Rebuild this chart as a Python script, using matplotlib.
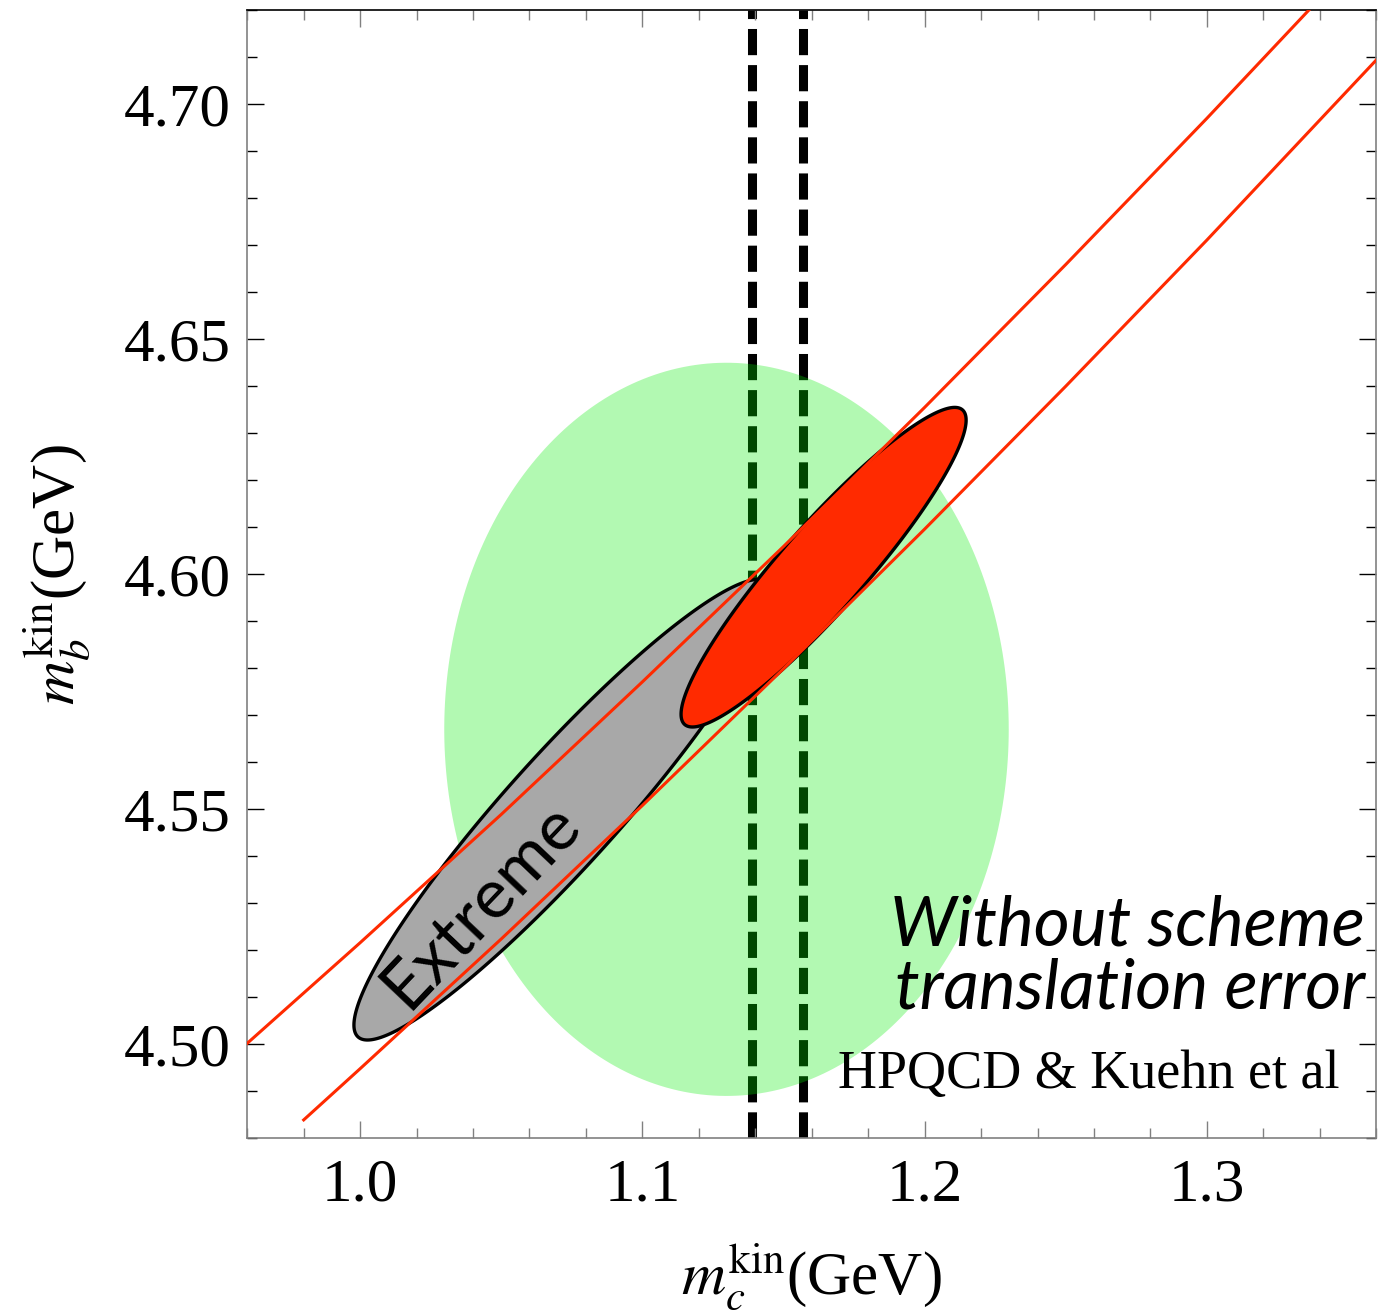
import numpy as np
import matplotlib.pyplot as plt
from matplotlib.ticker import MultipleLocator, FormatStrFormatter

plt.rcParams['mathtext.fontset'] = 'stix'
plt.rcParams['font.family'] = ['Liberation Serif', 'DejaVu Serif']

# fit regions: centre, sigmas and correlation in (m_c, m_b)
green_center = (1.1298, 4.567)
green_sigma = (0.100, 0.078)
green_rho = 0.0

gray_center = (1.0718, 4.5499)
gray_sigma = (0.0740, 0.049)
gray_rho = 0.935

red_center = (1.1642, 4.6015)
red_sigma = (0.0505, 0.034)
red_rho = 0.92

# constraint band edges
upper_mc = [0.960, 1.00, 1.05, 1.10, 1.15, 1.20, 1.25, 1.30, 1.34]
upper_mb = [4.5002, 4.5216, 4.5489, 4.5771, 4.6059, 4.6355, 4.6659, 4.6970, 4.7225]
lower_mc = [0.980, 1.00, 1.05, 1.10, 1.15, 1.20, 1.25, 1.30, 1.36]
lower_mb = [4.4839, 4.4948, 4.5224, 4.5508, 4.5799, 4.6096, 4.6400, 4.6711, 4.7094]

# m_c range shown as dashed lines
dash_mc = [1.1388, 1.1569]

xticks = [1.0, 1.1, 1.2, 1.3]
yticks = [4.50, 4.55, 4.60, 4.65, 4.70]


def contour(center, sigma, rho, n=300):
    t = np.linspace(0, 2 * np.pi, n)
    x = center[0] + sigma[0] * np.cos(t)
    y = center[1] + sigma[1] * (rho * np.cos(t) + np.sqrt(1 - rho ** 2) * np.sin(t))
    return x, y


fig = plt.figure(figsize=(13.89, 13.13), dpi=100)
ax = fig.add_axes([0.178, 0.1331, 0.8128, 0.8591])

red = '#ff2a00'

for xm in dash_mc:
    ax.axvline(xm, color='black', lw=6.5, linestyle=(0, (2.9, 1.1)),
               dash_capstyle='butt', zorder=1)

gx, gy = contour(green_center, green_sigma, green_rho)
ax.fill(gx, gy, color=(0, 0.93, 0), alpha=0.3, lw=0, zorder=2)

kx, ky = contour(gray_center, gray_sigma, gray_rho)
ax.fill(kx, ky, facecolor='#a8a8a8', edgecolor='black', lw=2.4, zorder=3)

rx, ry = contour(red_center, red_sigma, red_rho)
ax.fill(rx, ry, facecolor=red, edgecolor='black', lw=2.4, zorder=4)

ax.plot(upper_mc, upper_mb, color=red, lw=2.2, zorder=5)
ax.plot(lower_mc, lower_mb, color=red, lw=2.2, zorder=5)

ax.text(1.0429, 4.5296, 'Extreme', family='Lato', fontsize=50,
        rotation=46.5, rotation_mode='anchor', ha='center', va='center', zorder=6)

ax.text(0.990, 0.216, 'Without scheme\ntranslation error', transform=ax.transAxes,
        family='Lato', style='italic', fontsize=50, ha='right', va='top',
        linespacing=1.0, zorder=6)
ax.text(0.968, 0.034, 'HPQCD & Kuehn et al', transform=ax.transAxes,
        fontsize=39, ha='right', va='bottom', zorder=6)

ax.set_xlim(0.96, 1.36)
ax.set_ylim(4.48, 4.72)
ax.set_xticks(xticks)
ax.set_yticks(yticks)
ax.xaxis.set_minor_locator(MultipleLocator(0.02))
ax.yaxis.set_minor_locator(MultipleLocator(0.01))
ax.xaxis.set_major_formatter(FormatStrFormatter('%.1f'))
ax.yaxis.set_major_formatter(FormatStrFormatter('%.2f'))

ax.tick_params(axis='x', which='both', direction='in', top=True, color='#808080',
               labelsize=44, pad=14)
ax.tick_params(axis='y', which='both', direction='in', right=True, color='black',
               labelsize=44, pad=12)
ax.tick_params(which='major', length=12, width=1.0)
ax.tick_params(which='minor', length=7.5, width=1.0)

for side in ['left', 'bottom', 'right']:
    ax.spines[side].set_color('#808080')
ax.spines['top'].set_color('black')
for s in ax.spines.values():
    s.set_linewidth(1.2)

ax.set_xlabel(r'$m_c^{\mathrm{kin}}$(GeV)', fontsize=44, labelpad=20)
ax.set_ylabel(r'$m_b^{\mathrm{kin}}$(GeV)', fontsize=44, labelpad=22)

fig.savefig('out.png', dpi=100)
